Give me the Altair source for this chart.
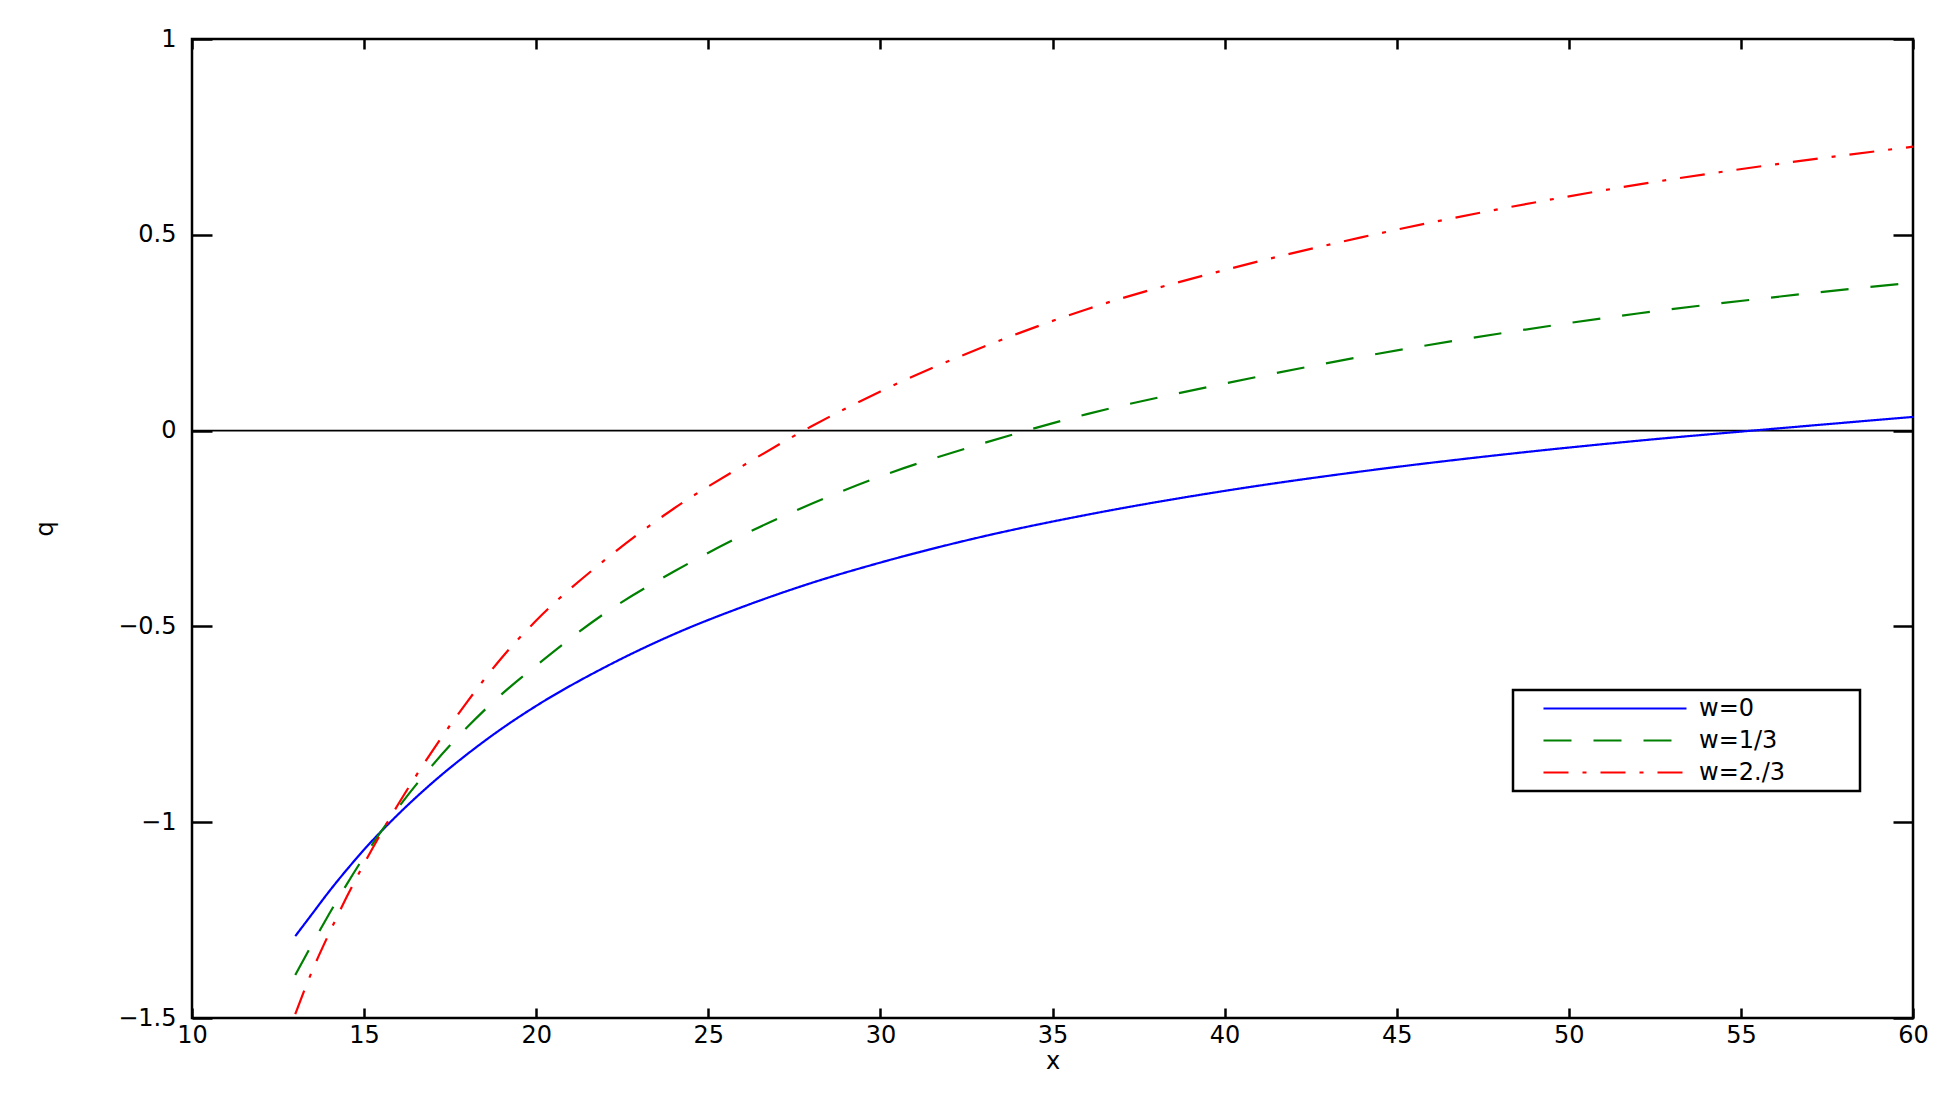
import altair as alt
import pandas as pd

# ---- data ----
x_grid = [13, 13.5, 14, 14.5, 15, 16, 17, 18, 19, 20, 22, 24, 26, 28, 30, 33, 36, 40, 44, 48, 52, 56, 60]
q_w0 = [-1.291, -1.233, -1.175, -1.121, -1.070, -0.979, -0.898, -0.826, -0.761, -0.703, -0.604, -0.520,
        -0.450, -0.389, -0.337, -0.270, -0.215, -0.154, -0.104, -0.062, -0.026, 0.005, 0.035]
q_w13 = [-1.390, -1.310, -1.232, -1.158, -1.088, -0.962, -0.853, -0.757, -0.673, -0.600, -0.466, -0.360,
         -0.267, -0.187, -0.117, -0.032, 0.042, 0.120, 0.189, 0.248, 0.299, 0.341, 0.378]
q_w23 = [-1.490, -1.378, -1.281, -1.190, -1.106, -0.953, -0.816, -0.692, -0.580, -0.485, -0.330, -0.199,
         -0.090, 0.011, 0.100, 0.214, 0.310, 0.410, 0.494, 0.566, 0.628, 0.680, 0.725]

series_names = ["w=0", "w=1/3", "w=2./3"]
series_colors = ["#0000ff", "#008000", "#ff0000"]
series_dashes = [[1, 0], [28, 22], [25, 14, 4, 14]]

x_ticks = [10, 15, 20, 25, 30, 35, 40, 45, 50, 55, 60]
y_ticks = [-1.5, -1, -0.5, 0, 0.5, 1]
zero_x = [10, 60]
zero_q = [0, 0]

rows = []
for name, vals in zip(series_names, [q_w0, q_w13, q_w23]):
    for xv, qv in zip(x_grid, vals):
        rows.append({"series": name, "x": xv, "q": qv})
df = pd.DataFrame(rows)
zdf = pd.DataFrame({"x": zero_x, "q": zero_q})

FONT = "DejaVu Sans"
xs = alt.Scale(domain=[10, 60], nice=False, zero=False)
ys = alt.Scale(domain=[-1.5, 1], nice=False, zero=False)

legend_props = dict(
    title=None, orient="none", legendX=1321, legendY=651,
    strokeColor="black", fillColor="white", padding=6,
    # visible sample line, plus an empty zero-length sub-path that widens the legend box
    symbolType="M1.09,0H14.09M28.9,0L28.9,0", symbolSize=484, symbolStrokeWidth=2.2,
    labelFont=FONT, labelFontSize=24, labelColor="black", labelOffset=155, cornerRadius=0,
)

zero = alt.Chart(zdf).mark_line(color="black", strokeWidth=1.8).encode(
    x=alt.X("x:Q", scale=xs, axis=alt.Axis(values=x_ticks, orient="top", offset=-10, tickSize=10,
                                         labels=False, title=None)),
    y=alt.Y("q:Q", scale=ys, axis=alt.Axis(values=y_ticks, orient="right", offset=-20, tickSize=20,
                                         labels=False, title=None)),
)

lines = alt.Chart(df).mark_line(strokeWidth=2.2, interpolate="monotone").encode(
    x=alt.X("x:Q", scale=xs, axis=alt.Axis(values=x_ticks, orient="bottom", offset=-10, tickSize=10,
                                         labelPadding=5, format="~g", labelFlush=False,
                                         title="x", titlePadding=2)),
    y=alt.Y("q:Q", scale=ys, axis=alt.Axis(values=y_ticks, orient="left", offset=-20, tickSize=20,
                                         labelPadding=16, format="~g", labelFlush=False,
                                         title="q", titlePadding=60)),
    color=alt.Color("series:N", scale=alt.Scale(domain=series_names, range=series_colors),
                    legend=alt.Legend(**legend_props)),
    strokeDash=alt.StrokeDash("series:N", scale=alt.Scale(domain=series_names, range=series_dashes),
                              legend=alt.Legend(**legend_props)),
)

chart = alt.layer(zero, lines).resolve_axis(x="independent", y="independent").properties(
    width=1721, height=979, autosize="none",
    padding={"left": 184, "top": 31, "right": 30, "bottom": 60},
).configure_view(stroke="black", strokeWidth=2.5).configure_axis(
    grid=False, domain=False, tickColor="black", tickWidth=2.5,
    labelColor="black", labelFont=FONT, labelFontSize=24,
    titleFont=FONT, titleFontSize=24, titleFontWeight="normal", titleColor="black",
).configure_legend(strokeWidth=2.5, rowPadding=7)

chart.save("out.html", embed_options={"renderer": "svg", "actions": False})
